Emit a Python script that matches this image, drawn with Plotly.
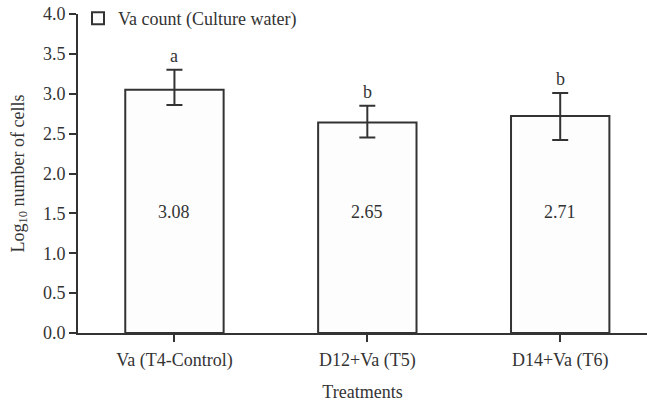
import plotly.graph_objects as go

categories = ["Va (T4-Control)", "D12+Va (T5)", "D14+Va (T6)"]
bar_values = [3.05, 2.64, 2.72]
mean_labels = ["3.08", "2.65", "2.71"]
err_high = [3.30, 2.85, 3.01]
err_low = [2.86, 2.45, 2.42]
sig_letters = ["a", "b", "b"]
y_ticks = [0.0, 0.5, 1.0, 1.5, 2.0, 2.5, 3.0, 3.5, 4.0]
LABEL_Y = 1.52

FONT = "Liberation Serif"
INK = "#333333"
FS = 18

err_plus = [h - v for h, v in zip(err_high, bar_values)]
err_minus = [v - l for l, v in zip(err_low, bar_values)]

fig = go.Figure()
fig.add_trace(go.Bar(
    x=categories,
    y=bar_values,
    width=0.51,
    name="Va count (Culture water)",
    marker=dict(color="#fdfdfd", line=dict(color=INK, width=2)),
    error_y=dict(type="data", symmetric=False, array=err_plus, arrayminus=err_minus,
                 color=INK, thickness=2, width=8),
    showlegend=True,
))

for c, lab in zip(categories, mean_labels):
    fig.add_annotation(x=c, y=LABEL_Y, text=lab, showarrow=False,
                       font=dict(family=FONT, size=FS, color=INK))
for c, h, s in zip(categories, err_high, sig_letters):
    fig.add_annotation(x=c, y=h, text=s, showarrow=False, yanchor="bottom", yshift=2,
                       font=dict(family=FONT, size=FS, color=INK))

fig.update_layout(
    width=647, height=402,
    margin=dict(l=78, r=0, t=14, b=69),
    paper_bgcolor="white", plot_bgcolor="white",
    font=dict(family=FONT, size=FS, color=INK),
    showlegend=True,
    legend=dict(x=0.0, y=1.045, xanchor="left", yanchor="top",
                bgcolor="rgba(0,0,0,0)", font=dict(family=FONT, size=FS, color=INK),
                itemwidth=30),
    xaxis=dict(
        range=[-0.5, 2.45],
        showline=True, linecolor=INK, linewidth=2,
        ticks="outside", ticklen=7, tickwidth=2, tickcolor=INK,
        showgrid=False, zeroline=False,
        ticklabelstandoff=2,
        title=dict(text="Treatments", standoff=17, font=dict(family=FONT, size=FS, color=INK)),
        tickfont=dict(family=FONT, size=FS, color=INK),
    ),
    yaxis=dict(
        range=[0, 4.0],
        tickvals=y_ticks,
        tickformat=".1f",
        showline=True, linecolor=INK, linewidth=2,
        ticks="outside", ticklen=7, tickwidth=2, tickcolor=INK,
        showgrid=False, zeroline=False,
        title=dict(text="Log<sub>10</sub> number of cells", standoff=14,
                   font=dict(family=FONT, size=FS, color=INK)),
        tickfont=dict(family=FONT, size=FS, color=INK),
    ),
)

fig.write_html("out.html")
